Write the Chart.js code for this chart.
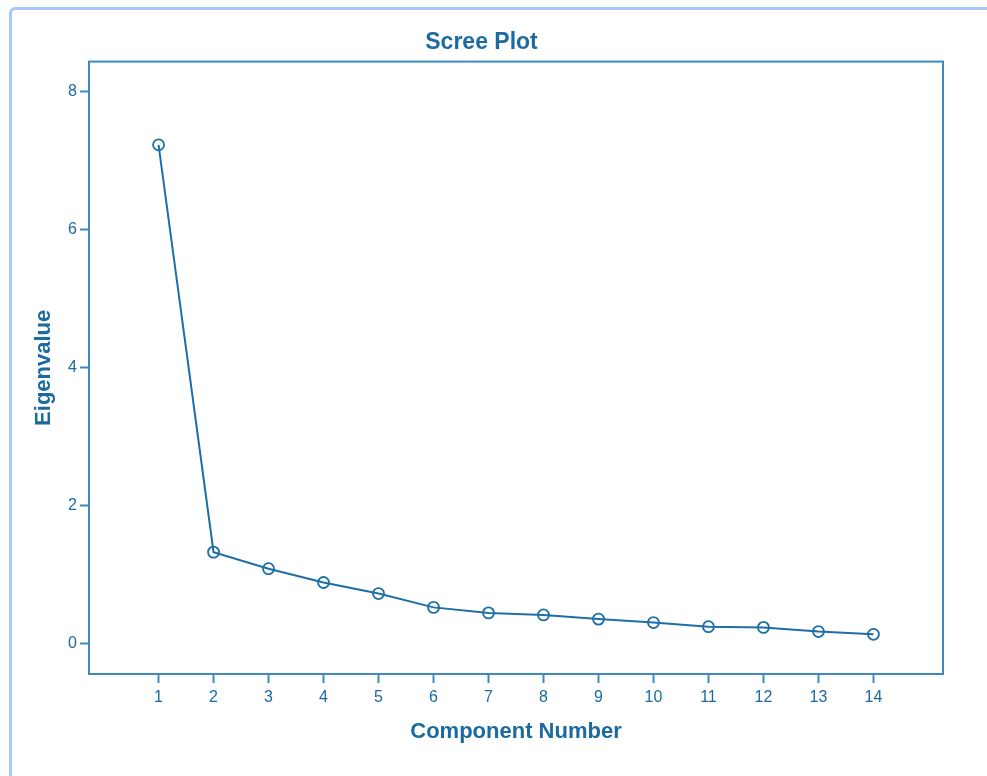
<!DOCTYPE html>
<html>
<head>
<meta charset="utf-8">
<title>Scree Plot</title>
<script src="https://cdn.jsdelivr.net/npm/chart.js@4.4.1/dist/chart.umd.min.js"></script>
<style>
    body { margin: 0; background: #fff; overflow: hidden; }
    #wrap { position: relative; width: 987px; height: 776px; }
    #frame {
        position: absolute; left: 9px; top: 7px; width: 1100px; height: 900px;
        border: 3px solid #a9c8f7; border-radius: 6px; box-sizing: border-box;
    }
    #screeChart { position: absolute; left: 0; top: 0; }
</style>
</head>
<body>
<div id="wrap">
    <div id="frame"></div>
    <canvas id="screeChart" width="987" height="776"></canvas>
</div>
<script>
// Data
const components = [1, 2, 3, 4, 5, 6, 7, 8, 9, 10, 11, 12, 13, 14];
const eigenvalues = [7.23, 1.33, 1.09, 0.89, 0.73, 0.53, 0.45, 0.42, 0.36, 0.31, 0.25, 0.24, 0.18, 0.14];
const yTicks = [0, 2, 4, 6, 8];

const lineColor = '#1d6ea6';
const axisColor = '#3d8ac0';
const textColor = '#1b6aa0';
const fontFamily = '"Liberation Sans", Arial, sans-serif';

// draws the box round the plot area (top and right sides)
const frameBox = {
    id: 'frameBox',
    afterDraw(chart) {
        const { ctx, chartArea: a } = chart;
        ctx.save();
        ctx.strokeStyle = axisColor;
        ctx.lineWidth = 2;
        ctx.strokeRect(a.left, a.top, a.right - a.left, a.bottom - a.top);
        ctx.restore();
    }
};

new Chart(document.getElementById('screeChart'), {
    type: 'scatter',
    data: {
        datasets: [{
            data: components.map((c, i) => ({ x: c, y: eigenvalues[i] })),
            showLine: true,
            borderColor: lineColor,
            borderWidth: 2,
            pointRadius: 5.5,
            pointBorderWidth: 1.8,
            pointBackgroundColor: 'rgba(255,255,255,0)',
            pointBorderColor: lineColor,
            tension: 0
        }]
    },
    options: {
        responsive: false,
        animation: false,
        events: [],
        layout: { padding: { left: 20, right: 44, top: 0, bottom: 0 } },
        plugins: {
            legend: { display: false },
            tooltip: { enabled: false },
            title: {
                display: true,
                text: 'Scree Plot',
                color: textColor,
                font: { family: fontFamily, size: 23, weight: 'bold' },
                padding: { top: 29, bottom: 5 }
            }
        },
        scales: {
            x: {
                type: 'linear',
                min: -0.265,
                max: 15.265,
                afterBuildTicks: (scale) => { scale.ticks = components.map(v => ({ value: v })); },
                afterFit: (scale) => { scale.height = 102; },
                grid: { drawOnChartArea: false, tickLength: 9, tickColor: axisColor, tickWidth: 2 },
                border: { color: axisColor, width: 2 },
                ticks: {
                    color: textColor, padding: 5, maxRotation: 0,
                    font: { family: fontFamily, size: 16 }
                },
                title: {
                    display: true,
                    text: 'Component Number',
                    color: textColor,
                    font: { family: fontFamily, size: 22, weight: 'bold' },
                    padding: { top: 0, bottom: 31 }
                }
            },
            y: {
                type: 'linear',
                min: -0.435,
                max: 8.435,
                afterBuildTicks: (scale) => { scale.ticks = yTicks.map(v => ({ value: v })); },
                afterFit: (scale) => { scale.width = 69; },
                grid: { drawOnChartArea: false, tickLength: 9, tickColor: axisColor, tickWidth: 2 },
                border: { color: axisColor, width: 2 },
                ticks: {
                    color: textColor, padding: 3,
                    font: { family: fontFamily, size: 16 }
                },
                title: {
                    display: true,
                    text: 'Eigenvalue',
                    color: textColor,
                    font: { family: fontFamily, size: 22, weight: 'bold' },
                    padding: { top: 11, bottom: 0 }
                }
            }
        }
    },
    plugins: [frameBox]
});
</script>
</body>
</html>
